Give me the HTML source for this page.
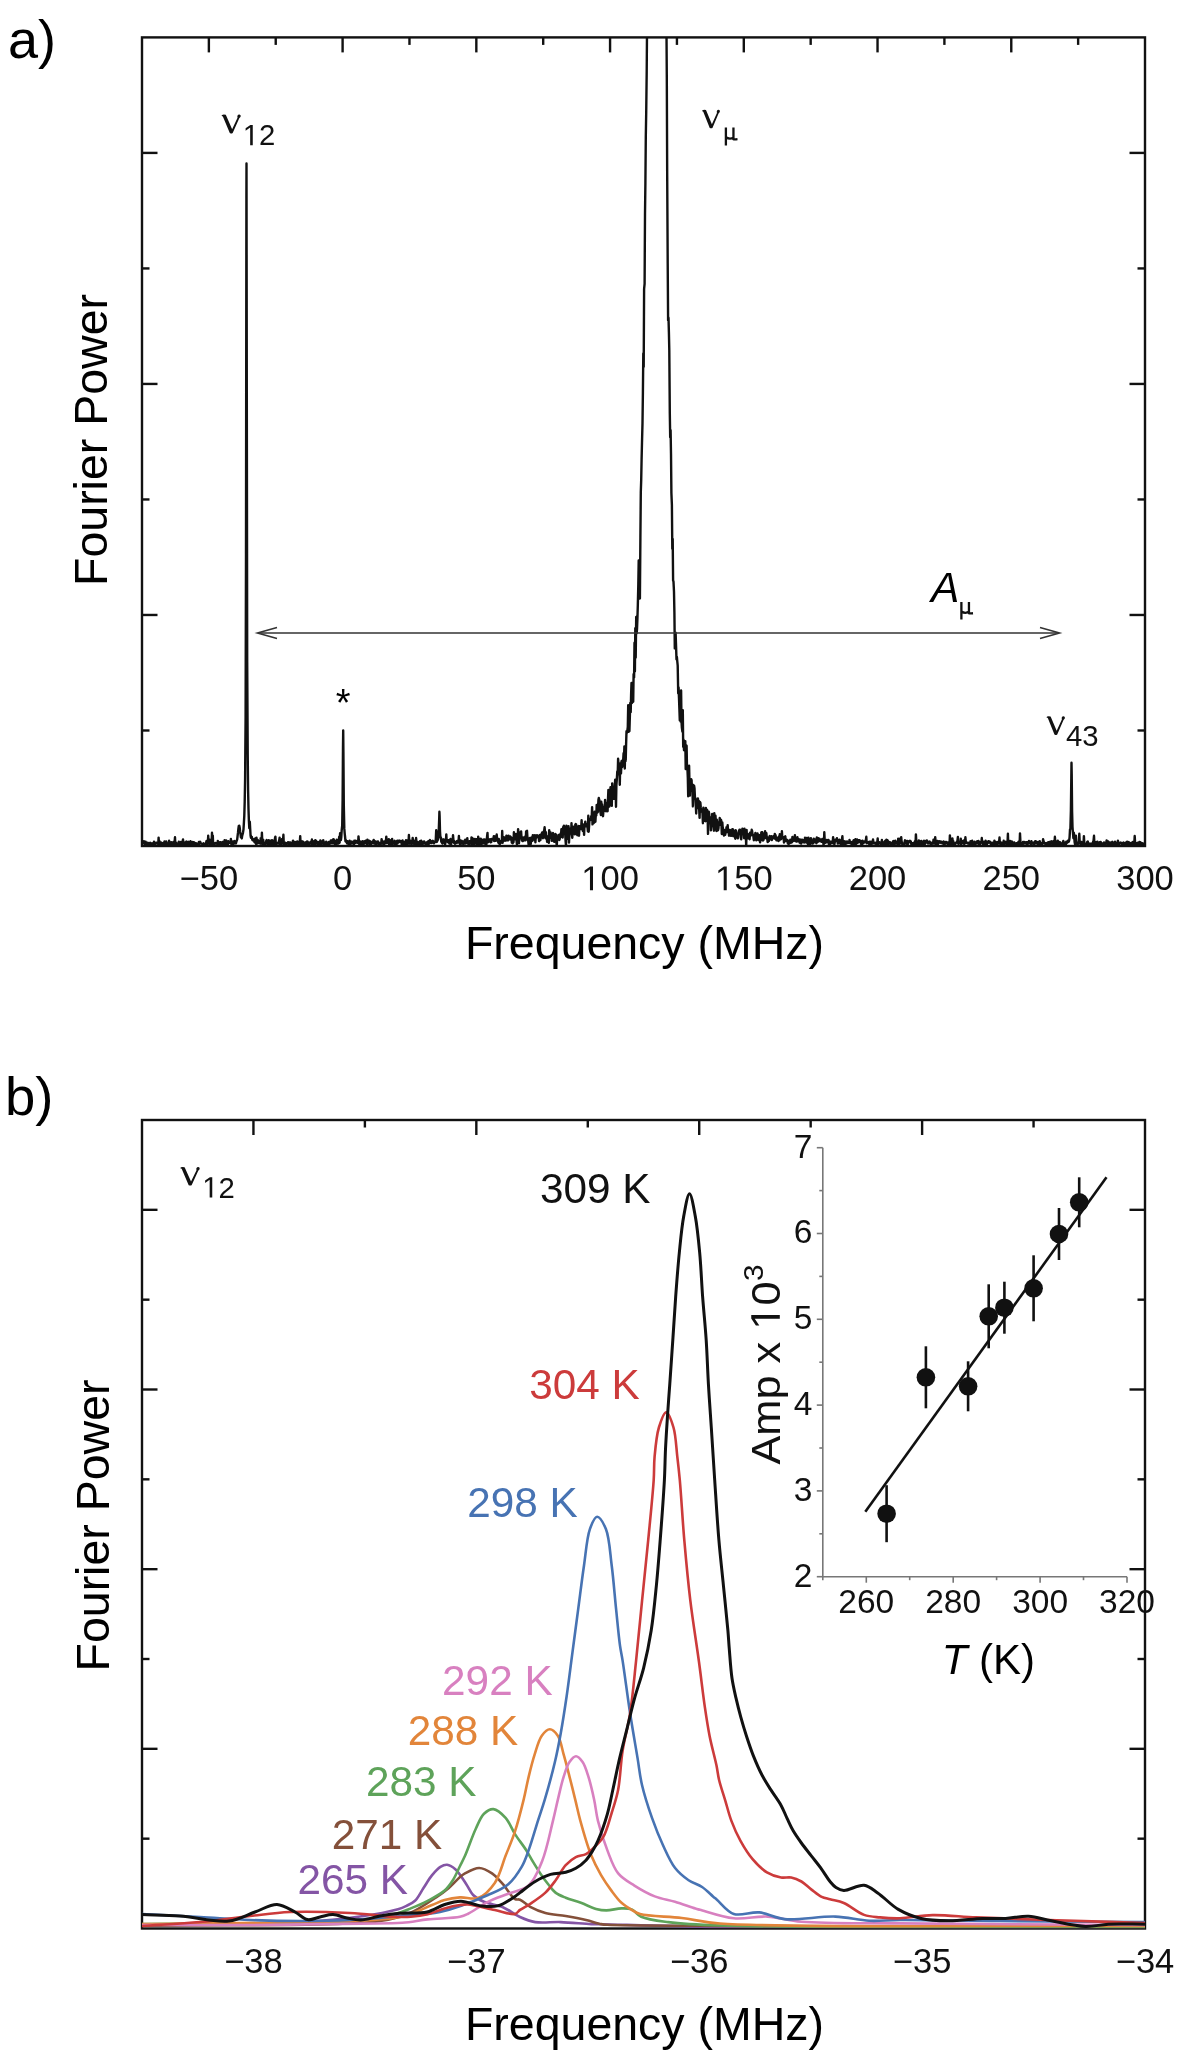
<!DOCTYPE html>
<html><head><meta charset="utf-8"><style>
html,body{margin:0;padding:0;background:#fff;width:1182px;height:2060px;overflow:hidden}
svg{display:block;will-change:transform}
text{font-kerning:none}
</style></head><body>
<svg width="1182" height="2060" viewBox="0 0 1182 2060">
<rect x="142.0" y="37.4" width="1003.0" height="808.6" fill="none" stroke="#111" stroke-width="2.4"/>
<line x1="208.87" y1="37.4" x2="208.87" y2="52.4" stroke="#111" stroke-width="2.4"/>
<line x1="275.73" y1="37.4" x2="275.73" y2="44.9" stroke="#111" stroke-width="2.4"/>
<line x1="342.60" y1="37.4" x2="342.60" y2="52.4" stroke="#111" stroke-width="2.4"/>
<line x1="409.47" y1="37.4" x2="409.47" y2="44.9" stroke="#111" stroke-width="2.4"/>
<line x1="476.33" y1="37.4" x2="476.33" y2="52.4" stroke="#111" stroke-width="2.4"/>
<line x1="543.20" y1="37.4" x2="543.20" y2="44.9" stroke="#111" stroke-width="2.4"/>
<line x1="610.07" y1="37.4" x2="610.07" y2="52.4" stroke="#111" stroke-width="2.4"/>
<line x1="676.93" y1="37.4" x2="676.93" y2="44.9" stroke="#111" stroke-width="2.4"/>
<line x1="743.80" y1="37.4" x2="743.80" y2="52.4" stroke="#111" stroke-width="2.4"/>
<line x1="810.67" y1="37.4" x2="810.67" y2="44.9" stroke="#111" stroke-width="2.4"/>
<line x1="877.53" y1="37.4" x2="877.53" y2="52.4" stroke="#111" stroke-width="2.4"/>
<line x1="944.40" y1="37.4" x2="944.40" y2="44.9" stroke="#111" stroke-width="2.4"/>
<line x1="1011.27" y1="37.4" x2="1011.27" y2="52.4" stroke="#111" stroke-width="2.4"/>
<line x1="1078.13" y1="37.4" x2="1078.13" y2="44.9" stroke="#111" stroke-width="2.4"/>
<line x1="142.0" y1="730.49" x2="149.5" y2="730.49" stroke="#111" stroke-width="2.4"/>
<line x1="1145.0" y1="730.49" x2="1137.5" y2="730.49" stroke="#111" stroke-width="2.4"/>
<line x1="142.0" y1="614.97" x2="157.5" y2="614.97" stroke="#111" stroke-width="2.4"/>
<line x1="1145.0" y1="614.97" x2="1129.5" y2="614.97" stroke="#111" stroke-width="2.4"/>
<line x1="142.0" y1="499.46" x2="149.5" y2="499.46" stroke="#111" stroke-width="2.4"/>
<line x1="1145.0" y1="499.46" x2="1137.5" y2="499.46" stroke="#111" stroke-width="2.4"/>
<line x1="142.0" y1="383.94" x2="157.5" y2="383.94" stroke="#111" stroke-width="2.4"/>
<line x1="1145.0" y1="383.94" x2="1129.5" y2="383.94" stroke="#111" stroke-width="2.4"/>
<line x1="142.0" y1="268.43" x2="149.5" y2="268.43" stroke="#111" stroke-width="2.4"/>
<line x1="1145.0" y1="268.43" x2="1137.5" y2="268.43" stroke="#111" stroke-width="2.4"/>
<line x1="142.0" y1="152.91" x2="157.5" y2="152.91" stroke="#111" stroke-width="2.4"/>
<line x1="1145.0" y1="152.91" x2="1129.5" y2="152.91" stroke="#111" stroke-width="2.4"/>
<text x="208.87" y="890.30" text-anchor="middle" fill="#111" style="font-family:'Liberation Sans',sans-serif;font-size:34.5px">−50</text>
<text x="342.60" y="890.30" text-anchor="middle" fill="#111" style="font-family:'Liberation Sans',sans-serif;font-size:34.5px">0</text>
<text x="476.33" y="890.30" text-anchor="middle" fill="#111" style="font-family:'Liberation Sans',sans-serif;font-size:34.5px">50</text>
<text x="581.29" y="890.30" fill="#111" style="font-family:'Liberation Sans',sans-serif;font-size:34.5px"> 00</text>
<polygon points="589.96,890.30 593.01,890.30 593.01,866.56 590.21,866.56 584.60,870.42 584.60,873.29 589.96,869.46" fill="#111"/>
<text x="715.02" y="890.30" fill="#111" style="font-family:'Liberation Sans',sans-serif;font-size:34.5px"> 50</text>
<polygon points="723.69,890.30 726.74,890.30 726.74,866.56 723.95,866.56 718.34,870.42 718.34,873.29 723.69,869.46" fill="#111"/>
<text x="877.53" y="890.30" text-anchor="middle" fill="#111" style="font-family:'Liberation Sans',sans-serif;font-size:34.5px">200</text>
<text x="1011.27" y="890.30" text-anchor="middle" fill="#111" style="font-family:'Liberation Sans',sans-serif;font-size:34.5px">250</text>
<text x="1145.00" y="890.30" text-anchor="middle" fill="#111" style="font-family:'Liberation Sans',sans-serif;font-size:34.5px">300</text>
<text x="644.5" y="959" text-anchor="middle" style="font-family:'Liberation Sans',sans-serif;font-size:46.5px">Frequency (MHz)</text>
<text transform="translate(106.6,440) rotate(-90)" text-anchor="middle" style="font-family:'Liberation Sans',sans-serif;font-size:46.5px">Fourier Power</text>
<text x="8" y="58" style="font-family:'Liberation Sans',sans-serif;font-size:54px">a)</text>
<defs><clipPath id="ca"><rect x="142" y="37.4" width="1003" height="808.6"/></clipPath><clipPath id="cb"><rect x="142" y="1120" width="1003" height="808.5"/></clipPath></defs>
<polyline clip-path="url(#ca)" points="143.5,844.4 143.9,841.1 144.3,841.9 144.8,844.7 145.2,844.2 145.6,841.6 146.0,843.6 146.4,844.1 146.9,843.7 147.3,846.0 147.7,842.6 148.1,844.1 148.5,843.2 149.0,843.1 149.4,844.7 149.8,843.1 150.2,842.8 150.6,844.8 151.1,843.8 151.5,843.6 151.9,845.0 152.3,843.5 152.7,844.1 153.2,843.1 153.6,846.1 154.0,841.7 154.4,845.1 154.8,844.7 155.3,845.3 155.7,843.1 156.1,842.6 156.5,842.7 156.9,843.0 157.4,842.8 157.8,843.2 158.2,844.2 158.6,837.6 159.0,843.8 159.5,841.3 159.9,844.6 160.3,844.2 160.7,843.2 161.1,842.6 161.6,845.3 162.0,843.7 162.4,844.7 162.8,845.7 163.2,843.0 163.7,843.3 164.1,844.7 164.5,841.4 164.9,843.4 165.3,843.5 165.8,844.2 166.2,841.5 166.6,843.3 167.0,844.1 167.4,843.8 167.9,844.8 168.3,844.4 168.7,844.0 169.1,840.7 169.5,842.5 170.0,843.8 170.4,843.9 170.8,845.3 171.2,842.2 171.6,844.0 172.1,843.3 172.5,845.1 172.9,843.2 173.3,842.1 173.7,844.9 174.2,843.8 174.6,842.2 175.0,837.3 175.4,845.2 175.8,842.5 176.3,843.3 176.7,843.9 177.1,845.4 177.5,843.7 177.9,845.4 178.4,844.1 178.8,841.7 179.2,843.5 179.6,844.0 180.0,844.7 180.5,844.1 180.9,842.0 181.3,842.4 181.7,846.2 182.1,844.0 182.6,841.5 183.0,839.5 183.4,842.6 183.8,845.3 184.2,843.1 184.7,842.7 185.1,844.1 185.5,842.3 185.9,842.3 186.3,841.6 186.8,844.7 187.2,844.5 187.6,845.3 188.0,843.3 188.4,841.8 188.9,844.9 189.3,845.6 189.7,843.3 190.1,843.7 190.5,841.1 191.0,844.4 191.4,844.6 191.8,845.6 192.2,842.9 192.6,842.1 193.1,845.0 193.5,845.2 193.9,842.3 194.3,843.7 194.7,842.8 195.2,844.8 195.6,843.5 196.0,843.2 196.4,843.5 196.8,843.5 197.3,844.2 197.7,844.4 198.1,846.0 198.5,845.1 198.9,841.9 199.4,843.8 199.8,842.7 200.2,841.8 200.6,843.2 201.0,843.5 201.5,843.6 201.9,844.0 202.3,844.2 202.7,844.0 203.1,844.6 203.6,843.3 204.0,844.9 204.4,844.6 204.8,844.2 205.2,844.9 205.7,846.2 206.1,842.5 206.5,841.0 206.9,842.1 207.3,843.8 207.8,844.1 208.2,835.8 208.6,842.1 209.0,843.4 209.4,839.5 209.9,841.9 210.3,845.3 210.7,844.2 211.1,844.1 211.5,843.8 212.0,832.7 212.4,844.2 212.8,835.6 213.2,845.1 213.6,844.2 214.1,844.8 214.5,844.3 214.9,843.7 215.3,842.9 215.7,843.2 216.2,843.2 216.6,843.6 217.0,843.5 217.4,844.5 217.8,840.9 218.3,843.6 218.7,844.2 219.1,844.1 219.5,842.3 219.9,845.1 220.4,842.3 220.8,844.5 221.2,844.3 221.6,844.1 222.0,844.5 222.5,842.0 222.9,844.0 223.3,844.5 223.7,844.7 224.1,842.8 224.6,840.2 225.0,844.6 225.4,841.4 225.8,844.8 226.2,840.5 226.7,844.9 227.1,843.9 227.5,842.5 227.9,844.6 228.3,841.3 228.8,843.1 229.2,842.8 229.6,842.3 230.0,841.8 230.4,842.8 230.9,839.0 231.3,844.1 231.7,842.3 232.1,842.4 232.5,843.3 233.0,841.5 233.4,844.8 233.8,843.1 234.2,842.2 234.6,841.1 235.1,842.6 235.5,842.5 235.9,843.4 236.3,841.9 236.7,840.7 237.2,839.4 237.6,835.9 238.0,832.7 238.4,828.6 238.8,825.9 239.3,825.8 239.7,827.7 240.1,831.4 240.5,833.8 240.9,837.4 241.4,837.4 241.8,838.4 242.2,835.5 242.6,834.3 243.0,832.7 243.5,829.3 243.9,822.8 244.3,815.6 244.7,801.7 245.1,778.9 245.6,717.6 246.0,553.8 246.4,198.1 246.5,163.5 246.8,392.6 247.2,661.9 247.7,753.5 248.1,790.2 248.5,809.2 248.9,820.9 249.3,828.3 249.8,821.8 250.2,829.0 250.6,835.8 251.0,837.9 251.4,837.1 251.9,836.9 252.3,839.9 252.7,840.2 253.1,839.2 253.5,839.1 254.0,839.8 254.4,842.0 254.8,842.4 255.2,838.5 255.6,840.1 256.1,844.1 256.5,837.8 256.9,842.8 257.3,843.5 257.7,839.9 258.2,841.8 258.6,843.0 259.0,841.3 259.4,843.1 259.8,843.2 260.3,843.7 260.7,838.1 261.1,843.3 261.5,843.5 261.9,832.7 262.4,844.1 262.8,844.5 263.2,839.7 263.6,843.6 264.0,844.3 264.5,843.1 264.9,843.3 265.3,843.8 265.7,844.0 266.1,841.3 266.6,840.1 267.0,842.5 267.4,843.4 267.8,843.9 268.2,843.5 268.7,840.2 269.1,844.1 269.5,843.7 269.9,842.2 270.3,840.7 270.8,843.7 271.2,843.1 271.6,844.1 272.0,840.2 272.4,844.8 272.9,845.3 273.3,843.2 273.7,844.2 274.1,840.5 274.5,844.1 275.0,838.1 275.4,836.6 275.8,843.0 276.2,845.2 276.6,842.9 277.1,843.4 277.5,842.9 277.9,843.0 278.3,843.5 278.7,841.9 279.2,840.5 279.6,837.6 280.0,846.9 280.4,843.3 280.8,843.5 281.3,842.0 281.7,843.9 282.1,838.9 282.5,843.3 282.9,842.0 283.4,834.8 283.8,844.4 284.2,842.8 284.6,842.8 285.0,842.7 285.5,843.9 285.9,843.0 286.3,843.9 286.7,843.2 287.1,843.5 287.6,843.3 288.0,842.2 288.4,844.5 288.8,842.9 289.2,843.7 289.7,843.7 290.1,842.3 290.5,844.0 290.9,844.0 291.3,845.1 291.8,844.2 292.2,843.7 292.6,841.9 293.0,840.7 293.4,841.8 293.9,845.1 294.3,842.0 294.7,842.5 295.1,841.9 295.5,842.2 296.0,844.5 296.4,844.0 296.8,844.8 297.2,841.4 297.6,844.6 298.1,843.5 298.5,842.0 298.9,842.9 299.3,843.1 299.7,844.0 300.2,836.1 300.6,843.3 301.0,844.4 301.4,842.1 301.8,841.7 302.3,844.4 302.7,841.5 303.1,842.6 303.5,844.7 303.9,844.3 304.4,842.8 304.8,843.9 305.2,842.5 305.6,844.5 306.0,844.7 306.5,842.2 306.9,841.6 307.3,845.3 307.7,841.8 308.1,844.4 308.6,843.2 309.0,843.7 309.4,843.9 309.8,842.5 310.2,842.9 310.7,842.4 311.1,841.6 311.5,844.0 311.9,839.5 312.3,843.5 312.8,844.9 313.2,842.2 313.6,844.4 314.0,841.1 314.4,843.2 314.9,844.3 315.3,840.1 315.7,841.5 316.1,840.7 316.5,843.4 317.0,843.0 317.4,844.3 317.8,842.9 318.2,842.1 318.6,843.9 319.1,842.3 319.5,843.3 319.9,845.1 320.3,840.5 320.7,843.7 321.2,843.2 321.6,843.9 322.0,842.5 322.4,843.6 322.8,840.7 323.3,840.3 323.7,844.3 324.1,842.1 324.5,844.3 324.9,844.1 325.4,843.8 325.8,845.6 326.2,841.6 326.6,843.1 327.0,845.0 327.5,843.0 327.9,843.0 328.3,842.7 328.7,842.0 329.1,845.0 329.6,844.0 330.0,843.1 330.4,841.6 330.8,840.4 331.2,843.4 331.7,840.5 332.1,842.9 332.5,843.3 332.9,842.4 333.3,839.1 333.8,839.5 334.2,843.6 334.6,842.9 335.0,841.2 335.4,845.7 335.9,843.3 336.3,844.9 336.7,839.6 337.1,840.1 337.5,841.6 338.0,842.4 338.4,843.6 338.8,841.2 339.2,836.8 339.6,842.8 340.1,833.1 340.5,840.1 340.9,840.1 341.3,837.0 341.7,830.0 342.2,825.7 342.6,800.7 343.0,745.9 343.2,730.4 343.4,751.2 343.8,805.0 344.3,828.4 344.7,833.3 345.1,837.0 345.5,841.4 345.9,840.1 346.4,842.2 346.8,841.8 347.2,843.6 347.6,841.3 348.0,842.8 348.5,841.5 348.9,844.2 349.3,843.0 349.7,840.8 350.1,841.5 350.6,843.8 351.0,843.8 351.4,842.3 351.8,841.6 352.2,843.2 352.7,842.2 353.1,843.4 353.5,843.6 353.9,844.8 354.3,840.6 354.8,843.4 355.2,842.8 355.6,840.7 356.0,841.1 356.4,841.8 356.9,841.5 357.3,842.9 357.7,841.5 358.1,842.7 358.5,836.4 359.0,842.0 359.4,845.1 359.8,841.5 360.2,842.0 360.6,841.5 361.1,845.0 361.5,842.4 361.9,841.9 362.3,842.5 362.7,841.2 363.2,845.7 363.6,842.6 364.0,843.9 364.4,843.2 364.8,841.2 365.3,842.3 365.7,840.7 366.1,841.5 366.5,842.7 366.9,845.0 367.4,839.6 367.8,842.2 368.2,842.7 368.6,843.3 369.0,840.6 369.5,844.7 369.9,842.5 370.3,841.3 370.7,845.1 371.1,844.5 371.6,842.3 372.0,842.6 372.4,841.8 372.8,843.1 373.2,842.0 373.7,839.9 374.1,843.5 374.5,842.9 374.9,841.2 375.3,843.7 375.8,844.7 376.2,842.8 376.6,841.7 377.0,842.9 377.4,842.8 377.9,841.4 378.3,844.1 378.7,844.8 379.1,842.6 379.5,843.1 380.0,845.4 380.4,845.2 380.8,843.9 381.2,843.9 381.6,839.2 382.1,843.3 382.5,841.3 382.9,843.9 383.3,841.6 383.7,841.6 384.2,844.1 384.6,843.1 385.0,842.8 385.4,840.7 385.8,843.2 386.3,836.6 386.7,841.9 387.1,843.0 387.5,842.9 387.9,840.8 388.4,842.8 388.8,839.1 389.2,845.8 389.6,842.5 390.0,843.7 390.5,842.8 390.9,840.2 391.3,847.0 391.7,843.1 392.1,838.9 392.6,844.3 393.0,842.8 393.4,843.3 393.8,843.3 394.2,842.7 394.7,840.8 395.1,845.3 395.5,841.4 395.9,842.3 396.3,845.6 396.8,841.3 397.2,840.7 397.6,843.4 398.0,841.0 398.4,842.4 398.9,841.1 399.3,840.6 399.7,842.0 400.1,841.3 400.5,840.9 401.0,841.6 401.4,842.2 401.8,845.4 402.2,843.9 402.6,840.5 403.1,843.4 403.5,843.2 403.9,844.8 404.3,842.1 404.7,844.5 405.2,841.5 405.6,844.5 406.0,840.2 406.4,842.0 406.8,840.5 407.3,845.1 407.7,842.1 408.1,842.2 408.5,842.6 408.9,835.0 409.4,843.8 409.8,843.3 410.2,840.7 410.6,842.7 411.0,843.5 411.5,844.3 411.9,843.4 412.3,841.5 412.7,838.0 413.1,843.5 413.6,843.0 414.0,840.6 414.4,845.0 414.8,844.7 415.2,844.7 415.7,843.7 416.1,838.0 416.5,842.3 416.9,841.6 417.3,843.8 417.8,845.0 418.2,846.3 418.6,842.3 419.0,842.3 419.4,843.0 419.9,841.2 420.3,845.0 420.7,841.9 421.1,840.7 421.5,843.4 422.0,843.9 422.4,842.3 422.8,844.1 423.2,841.6 423.6,843.1 424.1,841.4 424.5,843.0 424.9,842.5 425.3,844.0 425.7,842.7 426.2,845.9 426.6,843.7 427.0,842.7 427.4,841.9 427.8,845.1 428.3,841.1 428.7,844.0 429.1,843.6 429.5,840.7 429.9,840.1 430.4,842.3 430.8,842.7 431.2,843.0 431.6,842.1 432.0,841.0 432.5,840.8 432.9,840.9 433.3,842.9 433.7,842.1 434.1,843.3 434.6,841.4 435.0,841.5 435.4,841.9 435.8,839.1 436.2,830.3 436.7,842.0 437.1,841.5 437.5,838.3 437.9,839.9 438.3,836.9 438.8,829.3 439.2,818.7 439.4,811.8 439.6,815.6 440.0,831.0 440.4,837.6 440.9,837.5 441.3,841.9 441.7,840.3 442.1,843.0 442.5,843.5 443.0,839.4 443.4,842.2 443.8,839.5 444.2,841.1 444.6,841.6 445.1,844.5 445.5,842.3 445.9,841.4 446.3,834.4 446.7,841.3 447.2,840.5 447.6,841.2 448.0,842.2 448.4,840.2 448.8,841.6 449.3,843.5 449.7,841.6 450.1,839.8 450.5,838.9 450.9,845.6 451.4,842.2 451.8,841.3 452.2,842.2 452.6,842.1 453.0,835.2 453.5,840.5 453.9,842.9 454.3,841.4 454.7,843.1 455.1,843.8 455.6,841.9 456.0,841.7 456.4,842.4 456.8,843.1 457.2,841.0 457.7,841.0 458.1,841.8 458.5,842.1 458.9,836.0 459.3,843.3 459.8,842.3 460.2,845.7 460.6,840.5 461.0,842.3 461.4,843.7 461.9,841.0 462.3,842.5 462.7,842.4 463.1,843.3 463.5,844.6 464.0,841.9 464.4,840.7 464.8,843.3 465.2,839.8 465.6,843.6 466.1,842.8 466.5,842.2 466.9,841.6 467.3,838.2 467.7,843.1 468.2,843.5 468.6,845.0 469.0,844.3 469.4,841.3 469.8,843.2 470.3,841.0 470.7,843.3 471.1,843.8 471.5,837.4 471.9,844.0 472.4,844.8 472.8,838.5 473.2,839.8 473.6,843.5 474.0,845.1 474.5,844.2 474.9,839.0 475.3,842.4 475.7,843.0 476.1,842.3 476.6,839.2 477.0,844.7 477.4,843.1 477.8,845.1 478.2,836.7 478.7,838.9 479.1,840.8 479.5,842.7 479.9,839.5 480.3,846.1 480.8,838.7 481.2,841.5 481.6,844.3 482.0,843.3 482.4,841.0 482.9,840.5 483.3,839.6 483.7,841.4 484.1,843.6 484.5,839.5 485.0,839.6 485.4,839.8 485.8,843.9 486.2,846.0 486.6,841.8 487.1,836.1 487.5,832.9 487.9,842.2 488.3,839.5 488.7,840.8 489.2,840.4 489.6,841.6 490.0,839.2 490.4,841.1 490.8,842.3 491.3,842.0 491.7,838.9 492.1,839.6 492.5,839.0 492.9,839.5 493.4,838.5 493.8,836.3 494.2,841.1 494.6,839.3 495.0,836.4 495.5,838.3 495.9,840.7 496.3,839.3 496.7,834.5 497.1,838.8 497.6,840.2 498.0,841.3 498.4,842.8 498.8,838.9 499.2,841.7 499.7,844.6 500.1,841.1 500.5,841.5 500.9,842.8 501.3,840.6 501.8,842.6 502.2,831.0 502.6,842.9 503.0,840.1 503.4,836.9 503.9,837.3 504.3,838.5 504.7,840.2 505.1,840.8 505.5,840.6 506.0,838.7 506.4,835.7 506.8,839.3 507.2,840.3 507.6,838.1 508.1,840.4 508.5,835.6 508.9,837.8 509.3,839.2 509.7,839.0 510.2,836.5 510.6,839.6 511.0,838.0 511.4,837.6 511.8,842.7 512.3,840.3 512.7,843.4 513.1,839.4 513.5,842.2 513.9,832.3 514.4,839.1 514.8,837.5 515.2,839.2 515.6,839.0 516.0,834.0 516.5,840.1 516.9,844.5 517.3,841.3 517.7,839.5 518.1,829.1 518.6,834.8 519.0,843.3 519.4,832.1 519.8,836.5 520.2,838.4 520.7,837.6 521.1,831.4 521.5,837.3 521.9,840.5 522.3,839.3 522.8,841.1 523.2,837.4 523.6,839.8 524.0,839.0 524.4,838.1 524.9,840.4 525.3,836.4 525.7,840.2 526.1,831.6 526.5,831.0 527.0,830.8 527.4,836.9 527.8,838.3 528.2,840.9 528.6,844.7 529.1,842.4 529.5,839.4 529.9,837.9 530.3,842.6 530.7,844.2 531.2,840.3 531.6,837.5 532.0,840.8 532.4,840.8 532.8,835.3 533.3,836.3 533.7,835.5 534.1,839.6 534.5,837.8 534.9,835.3 535.4,842.4 535.8,836.7 536.2,838.0 536.6,837.3 537.0,835.3 537.5,836.8 537.9,835.7 538.3,835.7 538.7,836.9 539.1,841.1 539.6,839.0 540.0,834.9 540.4,840.1 540.8,836.5 541.2,836.2 541.7,833.6 542.1,832.6 542.5,835.1 542.9,838.2 543.3,832.0 543.8,831.4 544.2,830.4 544.6,827.3 545.0,831.6 545.4,838.3 545.9,832.2 546.3,838.4 546.7,836.0 547.1,841.8 547.5,837.7 548.0,839.7 548.4,839.4 548.8,842.9 549.2,830.2 549.6,833.8 550.1,834.4 550.5,832.4 550.9,838.0 551.3,835.9 551.7,840.9 552.2,836.4 552.6,833.8 553.0,833.0 553.4,834.4 553.8,841.4 554.3,841.8 554.7,839.6 555.1,834.8 555.5,834.0 555.9,834.7 556.4,842.8 556.8,845.2 557.2,838.8 557.6,837.2 558.0,837.6 558.5,834.9 558.9,835.4 559.3,840.0 559.7,839.1 560.1,834.7 560.6,833.6 561.0,835.0 561.4,829.3 561.8,837.0 562.2,834.7 562.7,837.5 563.1,827.3 563.5,826.8 563.9,825.7 564.3,829.3 564.8,830.6 565.2,833.9 565.6,841.2 566.0,845.7 566.4,825.8 566.9,832.0 567.3,834.8 567.7,834.3 568.1,838.8 568.5,826.1 569.0,842.6 569.4,833.4 569.8,828.8 570.2,831.6 570.6,829.6 571.1,833.5 571.5,823.3 571.9,835.1 572.3,837.7 572.7,830.3 573.2,826.8 573.6,830.6 574.0,828.1 574.4,830.8 574.8,834.4 575.3,824.7 575.7,824.0 576.1,824.4 576.5,830.6 576.9,834.0 577.4,835.2 577.8,831.1 578.2,826.9 578.6,826.0 579.0,835.8 579.5,826.1 579.9,827.2 580.3,827.8 580.7,829.1 581.1,828.7 581.6,820.3 582.0,827.1 582.4,824.1 582.8,831.0 583.2,825.3 583.7,828.1 584.1,834.9 584.5,824.2 584.9,826.7 585.3,821.6 585.8,825.7 586.2,826.2 586.6,824.5 587.0,824.6 587.4,826.3 587.9,831.3 588.3,815.7 588.7,831.7 589.1,825.6 589.5,819.1 590.0,820.1 590.4,819.7 590.8,818.6 591.2,816.1 591.6,820.0 592.1,807.1 592.5,824.4 592.9,820.3 593.3,820.1 593.7,823.1 594.2,817.1 594.6,811.8 595.0,822.0 595.4,821.6 595.8,815.0 596.3,815.5 596.7,804.9 597.1,810.0 597.5,812.5 597.9,811.8 598.4,800.3 598.8,797.9 599.2,800.0 599.6,801.2 600.0,808.1 600.5,812.5 600.9,815.0 601.3,801.8 601.7,807.0 602.1,804.5 602.6,814.5 603.0,816.2 603.4,811.5 603.8,806.8 604.2,810.7 604.7,809.4 605.1,799.9 605.5,804.6 605.9,811.3 606.3,805.9 606.8,808.3 607.2,802.9 607.6,811.2 608.0,799.1 608.4,789.9 608.9,798.4 609.3,806.5 609.7,803.2 610.1,796.7 610.5,787.3 611.0,791.5 611.4,795.9 611.8,805.9 612.2,783.4 612.6,792.2 613.1,790.0 613.5,788.3 613.9,798.9 614.3,793.0 614.7,786.9 615.2,779.7 615.6,786.9 616.0,806.8 616.4,784.8 616.8,779.6 617.3,771.4 617.7,774.5 618.1,758.8 618.5,763.8 618.9,763.8 619.4,765.3 619.8,784.8 620.2,763.9 620.6,763.2 621.0,773.5 621.5,761.2 621.9,760.7 622.3,767.0 622.7,760.7 623.1,761.4 623.6,753.1 624.0,757.8 624.4,746.4 624.8,768.5 625.2,746.9 625.7,760.9 626.1,744.1 626.5,731.3 626.9,732.9 627.3,731.2 627.8,726.8 628.2,705.2 628.6,731.7 629.0,705.9 629.4,731.3 629.9,715.0 630.3,702.9 630.7,712.3 631.1,694.5 631.5,683.0 632.0,703.1 632.4,682.8 632.8,684.0 633.2,701.8 633.6,674.1 634.1,677.4 634.5,642.7 634.9,671.3 635.3,628.1 635.7,657.6 636.2,617.0 636.6,633.5 637.0,629.5 637.4,619.1 637.8,605.7 638.3,584.9 638.7,560.4 639.1,584.9 639.5,587.8 639.9,598.5 640.4,537.1 640.8,492.0 641.2,480.1 641.6,459.2 642.0,442.4 642.5,423.1 642.9,393.0 643.3,353.5 643.7,366.8 644.1,289.0 644.6,283.9 645.0,214.3 645.4,183.0 645.8,136.5 646.2,113.0 646.7,71.8 647.1,20.0 647.5,20.0 647.9,20.0 648.3,20.0 648.8,20.0 649.2,20.0 649.6,20.0 650.0,20.0 650.4,20.0 650.9,20.0 651.3,20.0 651.7,20.0 652.1,20.0 652.5,20.0 653.0,20.0 653.4,20.0 653.8,20.0 654.2,20.0 654.6,20.0 655.1,20.0 655.5,20.0 655.9,20.0 656.3,20.0 656.7,20.0 657.2,20.0 657.6,20.0 658.0,20.0 658.4,20.0 658.8,20.0 659.3,20.0 659.7,20.0 660.1,20.0 660.5,20.0 660.9,20.0 661.4,20.0 661.8,20.0 662.2,20.0 662.6,20.0 663.0,20.0 663.5,20.0 663.9,20.0 664.3,20.0 664.7,20.0 665.1,20.0 665.6,20.0 666.0,20.0 666.4,20.0 666.8,76.4 667.2,176.3 667.7,263.5 668.1,320.2 668.5,317.7 668.9,332.1 669.3,350.3 669.8,412.9 670.2,437.2 670.6,430.3 671.0,453.4 671.4,493.1 671.9,505.1 672.3,548.8 672.7,538.9 673.1,580.4 673.5,581.7 674.0,591.9 674.4,612.2 674.8,648.4 675.2,637.3 675.6,632.6 676.1,647.2 676.5,659.4 676.9,657.0 677.3,661.5 677.7,665.5 678.2,693.2 678.6,687.5 679.0,698.1 679.4,709.3 679.8,720.4 680.3,709.7 680.7,721.6 681.1,690.4 681.5,721.7 681.9,727.8 682.4,731.7 682.8,710.3 683.2,746.8 683.6,739.7 684.0,750.2 684.5,747.7 684.9,750.4 685.3,741.1 685.7,769.1 686.1,758.9 686.6,745.8 687.0,767.7 687.4,768.0 687.8,777.3 688.2,796.2 688.7,775.9 689.1,765.8 689.5,783.5 689.9,795.6 690.3,781.7 690.8,784.5 691.2,779.3 691.6,780.3 692.0,791.0 692.4,788.4 692.9,806.4 693.3,785.0 693.7,790.4 694.1,785.7 694.5,788.1 695.0,798.8 695.4,798.1 695.8,805.2 696.2,813.5 696.6,800.5 697.1,799.9 697.5,808.1 697.9,798.4 698.3,801.6 698.7,800.8 699.2,809.7 699.6,817.9 700.0,802.0 700.4,802.8 700.8,807.7 701.3,811.6 701.7,811.1 702.1,811.1 702.5,813.3 702.9,823.2 703.4,807.6 703.8,821.0 704.2,815.8 704.6,815.2 705.0,813.8 705.5,821.2 705.9,807.9 706.3,811.7 706.7,811.2 707.1,809.9 707.6,814.5 708.0,833.9 708.4,817.3 708.8,811.6 709.2,814.0 709.7,823.1 710.1,821.2 710.5,817.4 710.9,830.4 711.3,825.1 711.8,823.6 712.2,813.9 712.6,826.1 713.0,815.1 713.4,821.9 713.9,830.8 714.3,813.3 714.7,824.9 715.1,821.5 715.5,815.7 716.0,826.6 716.4,831.0 716.8,819.7 717.2,824.4 717.6,830.5 718.1,829.9 718.5,827.9 718.9,822.2 719.3,825.3 719.7,818.0 720.2,819.0 720.6,821.4 721.0,819.8 721.4,821.6 721.8,834.0 722.3,822.4 722.7,827.3 723.1,828.9 723.5,833.1 723.9,835.6 724.4,834.2 724.8,830.1 725.2,834.7 725.6,832.7 726.0,831.7 726.5,827.3 726.9,832.1 727.3,827.7 727.7,825.2 728.1,831.9 728.6,829.6 729.0,835.7 729.4,830.5 729.8,831.4 730.2,830.1 730.7,834.4 731.1,835.8 731.5,831.0 731.9,834.4 732.3,829.3 732.8,829.3 733.2,836.2 733.6,830.5 734.0,834.0 734.4,832.7 734.9,835.8 735.3,838.7 735.7,830.2 736.1,830.8 736.5,836.8 737.0,835.8 737.4,835.9 737.8,838.4 738.2,833.7 738.6,833.1 739.1,830.9 739.5,829.6 739.9,829.7 740.3,830.8 740.7,837.2 741.2,839.3 741.6,833.4 742.0,834.1 742.4,828.7 742.8,831.4 743.3,833.9 743.7,829.5 744.1,838.3 744.5,828.7 744.9,836.0 745.4,831.0 745.8,834.2 746.2,845.9 746.6,829.9 747.0,838.2 747.5,834.0 747.9,838.3 748.3,835.8 748.7,834.7 749.1,834.8 749.6,839.2 750.0,832.6 750.4,833.3 750.8,835.6 751.2,834.7 751.7,829.8 752.1,830.9 752.5,834.5 752.9,834.5 753.3,835.9 753.8,840.2 754.2,839.3 754.6,835.3 755.0,835.7 755.4,833.0 755.9,835.6 756.3,840.3 756.7,836.1 757.1,835.2 757.5,833.4 758.0,835.9 758.4,840.0 758.8,834.9 759.2,838.5 759.6,836.3 760.1,842.4 760.5,834.9 760.9,840.4 761.3,832.6 761.7,832.1 762.2,832.2 762.6,836.9 763.0,840.5 763.4,840.3 763.8,833.7 764.3,836.9 764.7,838.3 765.1,831.3 765.5,833.1 765.9,836.0 766.4,833.3 766.8,838.7 767.2,837.2 767.6,842.0 768.0,841.7 768.5,840.8 768.9,840.9 769.3,837.5 769.7,836.1 770.1,839.2 770.6,838.4 771.0,838.7 771.4,836.2 771.8,840.1 772.2,837.8 772.7,837.2 773.1,837.2 773.5,836.3 773.9,837.6 774.3,838.6 774.8,834.0 775.2,837.3 775.6,835.3 776.0,838.5 776.4,840.2 776.9,840.2 777.3,839.3 777.7,837.8 778.1,840.1 778.5,840.9 779.0,836.5 779.4,840.3 779.8,834.1 780.2,838.1 780.6,837.9 781.1,839.2 781.5,838.5 781.9,831.3 782.3,837.6 782.7,837.2 783.2,837.7 783.6,837.3 784.0,842.6 784.4,841.7 784.8,837.3 785.3,836.3 785.7,840.9 786.1,839.9 786.5,840.1 786.9,839.8 787.4,841.4 787.8,843.2 788.2,840.8 788.6,844.2 789.0,842.1 789.5,840.8 789.9,843.1 790.3,839.7 790.7,841.8 791.1,840.2 791.6,842.5 792.0,842.0 792.4,837.0 792.8,839.2 793.2,841.1 793.7,839.3 794.1,840.4 794.5,838.4 794.9,835.2 795.3,841.1 795.8,839.4 796.2,840.1 796.6,841.6 797.0,841.5 797.4,837.1 797.9,840.4 798.3,839.0 798.7,839.1 799.1,840.9 799.5,842.6 800.0,839.7 800.4,843.2 800.8,839.7 801.2,843.6 801.6,841.9 802.1,839.6 802.5,840.7 802.9,842.1 803.3,840.2 803.7,841.8 804.2,842.5 804.6,842.0 805.0,837.7 805.4,839.0 805.8,840.2 806.3,842.6 806.7,837.9 807.1,842.5 807.5,840.1 807.9,844.1 808.4,837.7 808.8,843.2 809.2,839.5 809.6,840.0 810.0,845.3 810.5,841.8 810.9,838.2 811.3,839.6 811.7,843.1 812.1,843.1 812.6,843.6 813.0,842.3 813.4,842.9 813.8,838.6 814.2,841.2 814.7,841.3 815.1,842.0 815.5,839.4 815.9,839.9 816.3,843.2 816.8,837.5 817.2,842.4 817.6,842.1 818.0,841.4 818.4,838.1 818.9,840.8 819.3,840.2 819.7,838.9 820.1,841.3 820.5,840.3 821.0,840.6 821.4,841.7 821.8,840.4 822.2,839.0 822.6,842.1 823.1,839.0 823.5,844.7 823.9,843.6 824.3,832.3 824.7,840.0 825.2,842.7 825.6,840.5 826.0,840.5 826.4,842.3 826.8,840.0 827.3,842.2 827.7,840.9 828.1,842.0 828.5,840.0 828.9,844.5 829.4,843.0 829.8,841.3 830.2,844.0 830.6,843.8 831.0,841.9 831.5,841.8 831.9,842.4 832.3,842.2 832.7,843.1 833.1,837.1 833.6,843.6 834.0,843.4 834.4,844.2 834.8,842.1 835.2,839.8 835.7,840.0 836.1,840.7 836.5,839.7 836.9,838.2 837.3,841.0 837.8,843.6 838.2,840.2 838.6,843.2 839.0,841.5 839.4,839.6 839.9,842.1 840.3,842.8 840.7,844.1 841.1,845.1 841.5,841.4 842.0,839.3 842.4,836.2 842.8,843.0 843.2,846.3 843.6,844.6 844.1,841.2 844.5,844.1 844.9,841.4 845.3,844.4 845.7,841.7 846.2,843.6 846.6,842.5 847.0,841.4 847.4,843.1 847.8,842.1 848.3,842.2 848.7,842.5 849.1,842.9 849.5,840.0 849.9,842.5 850.4,843.1 850.8,843.4 851.2,842.1 851.6,844.3 852.0,845.1 852.5,843.3 852.9,841.5 853.3,845.2 853.7,840.1 854.1,842.2 854.6,845.3 855.0,841.3 855.4,839.1 855.8,843.5 856.2,843.9 856.7,842.8 857.1,839.4 857.5,841.7 857.9,842.7 858.3,840.3 858.8,840.8 859.2,840.3 859.6,840.3 860.0,841.9 860.4,840.9 860.9,843.7 861.3,841.9 861.7,844.3 862.1,844.1 862.5,840.7 863.0,843.6 863.4,841.9 863.8,842.5 864.2,841.4 864.6,842.4 865.1,841.2 865.5,842.0 865.9,840.1 866.3,836.8 866.7,843.2 867.2,842.4 867.6,842.3 868.0,842.4 868.4,842.1 868.8,843.8 869.3,843.8 869.7,841.8 870.1,846.4 870.5,843.1 870.9,841.6 871.4,844.2 871.8,843.1 872.2,843.0 872.6,843.5 873.0,839.5 873.5,843.3 873.9,842.5 874.3,842.7 874.7,843.4 875.1,842.7 875.6,843.6 876.0,842.7 876.4,844.7 876.8,843.4 877.2,842.6 877.7,838.5 878.1,845.3 878.5,842.0 878.9,842.2 879.3,842.1 879.8,842.6 880.2,842.7 880.6,842.9 881.0,845.6 881.4,844.7 881.9,840.0 882.3,843.3 882.7,843.7 883.1,842.4 883.5,844.5 884.0,843.9 884.4,844.6 884.8,841.5 885.2,840.8 885.6,844.3 886.1,843.4 886.5,839.7 886.9,840.3 887.3,846.7 887.7,840.4 888.2,842.9 888.6,844.7 889.0,843.2 889.4,842.1 889.8,842.3 890.3,842.7 890.7,842.5 891.1,844.2 891.5,843.0 891.9,843.1 892.4,842.7 892.8,845.2 893.2,841.2 893.6,840.9 894.0,842.5 894.5,844.4 894.9,843.7 895.3,840.7 895.7,842.8 896.1,843.5 896.6,841.9 897.0,843.5 897.4,843.8 897.8,844.7 898.2,838.6 898.7,842.1 899.1,844.1 899.5,843.0 899.9,838.6 900.3,843.5 900.8,840.8 901.2,837.1 901.6,841.3 902.0,842.6 902.4,844.7 902.9,847.0 903.3,845.4 903.7,844.7 904.1,844.2 904.5,842.4 905.0,840.3 905.4,843.6 905.8,841.3 906.2,840.9 906.6,842.5 907.1,844.0 907.5,840.9 907.9,844.3 908.3,842.8 908.7,842.2 909.2,841.3 909.6,842.0 910.0,840.8 910.4,841.1 910.8,841.4 911.3,844.2 911.7,842.8 912.1,843.7 912.5,844.1 912.9,843.7 913.4,843.0 913.8,843.3 914.2,846.2 914.6,844.0 915.0,841.1 915.5,844.6 915.9,834.4 916.3,841.0 916.7,845.4 917.1,844.8 917.6,843.0 918.0,844.1 918.4,842.8 918.8,840.5 919.2,845.3 919.7,841.4 920.1,841.4 920.5,843.9 920.9,843.1 921.3,841.0 921.8,844.0 922.2,842.7 922.6,843.4 923.0,844.3 923.4,841.6 923.9,840.8 924.3,841.3 924.7,844.7 925.1,841.0 925.5,842.1 926.0,842.6 926.4,842.3 926.8,840.5 927.2,840.8 927.6,843.1 928.1,843.5 928.5,842.8 928.9,842.9 929.3,842.5 929.7,841.5 930.2,843.8 930.6,843.1 931.0,843.2 931.4,844.8 931.8,842.6 932.3,843.6 932.7,842.5 933.1,843.4 933.5,839.6 933.9,842.0 934.4,843.6 934.8,843.0 935.2,837.2 935.6,841.4 936.0,845.2 936.5,843.0 936.9,842.9 937.3,841.0 937.7,846.3 938.1,841.8 938.6,842.5 939.0,841.1 939.4,841.1 939.8,842.3 940.2,842.8 940.7,841.5 941.1,842.1 941.5,841.8 941.9,842.9 942.3,843.3 942.8,843.0 943.2,843.8 943.6,841.5 944.0,842.9 944.4,844.9 944.9,844.0 945.3,842.1 945.7,842.0 946.1,842.2 946.5,842.0 947.0,843.2 947.4,842.5 947.8,846.2 948.2,844.5 948.6,842.3 949.1,845.9 949.5,844.9 949.9,835.4 950.3,842.8 950.7,840.9 951.2,839.0 951.6,841.0 952.0,845.7 952.4,838.4 952.8,842.0 953.3,841.2 953.7,844.6 954.1,844.6 954.5,844.3 954.9,843.5 955.4,843.9 955.8,842.7 956.2,842.9 956.6,842.6 957.0,842.5 957.5,840.4 957.9,837.0 958.3,843.9 958.7,843.1 959.1,842.0 959.6,843.3 960.0,842.1 960.4,843.7 960.8,838.8 961.2,844.4 961.7,843.2 962.1,843.0 962.5,842.9 962.9,841.0 963.3,842.8 963.8,843.8 964.2,840.1 964.6,843.8 965.0,842.2 965.4,837.3 965.9,842.7 966.3,842.4 966.7,842.5 967.1,843.1 967.5,843.4 968.0,842.8 968.4,843.5 968.8,842.7 969.2,843.9 969.6,842.7 970.1,845.5 970.5,841.2 970.9,841.8 971.3,845.1 971.7,842.8 972.2,840.6 972.6,842.7 973.0,842.2 973.4,844.7 973.8,846.6 974.3,844.1 974.7,841.7 975.1,842.8 975.5,842.7 975.9,843.9 976.4,843.2 976.8,843.3 977.2,841.2 977.6,841.5 978.0,843.5 978.5,841.0 978.9,844.4 979.3,842.9 979.7,844.1 980.1,844.1 980.6,842.0 981.0,842.2 981.4,842.0 981.8,838.0 982.2,842.6 982.7,843.2 983.1,844.9 983.5,843.7 983.9,841.8 984.3,842.4 984.8,844.3 985.2,845.4 985.6,840.7 986.0,842.6 986.4,846.0 986.9,844.0 987.3,841.8 987.7,841.7 988.1,842.9 988.5,841.1 989.0,842.1 989.4,842.5 989.8,841.5 990.2,843.0 990.6,843.8 991.1,844.1 991.5,842.6 991.9,843.0 992.3,842.8 992.7,844.2 993.2,844.6 993.6,843.4 994.0,844.7 994.4,840.7 994.8,844.2 995.3,844.1 995.7,841.9 996.1,844.0 996.5,842.3 996.9,846.1 997.4,842.9 997.8,841.9 998.2,842.7 998.6,843.6 999.0,843.0 999.5,837.5 999.9,843.8 1000.3,843.8 1000.7,843.0 1001.1,842.5 1001.6,842.7 1002.0,844.9 1002.4,844.0 1002.8,843.2 1003.2,844.4 1003.7,840.8 1004.1,844.8 1004.5,843.9 1004.9,842.0 1005.3,842.7 1005.8,841.7 1006.2,842.3 1006.6,844.0 1007.0,842.5 1007.4,845.7 1007.9,833.8 1008.3,844.5 1008.7,843.4 1009.1,843.3 1009.5,844.2 1010.0,841.0 1010.4,844.1 1010.8,844.0 1011.2,842.5 1011.6,841.4 1012.1,841.8 1012.5,845.8 1012.9,842.4 1013.3,843.5 1013.7,843.6 1014.2,842.4 1014.6,843.3 1015.0,844.7 1015.4,843.5 1015.8,844.5 1016.3,843.2 1016.7,844.0 1017.1,844.0 1017.5,845.6 1017.9,843.4 1018.4,841.9 1018.8,841.4 1019.2,843.0 1019.6,844.6 1020.0,833.4 1020.5,843.5 1020.9,843.3 1021.3,843.1 1021.7,844.2 1022.1,844.6 1022.6,845.1 1023.0,842.0 1023.4,842.8 1023.8,842.0 1024.2,843.5 1024.7,842.1 1025.1,843.0 1025.5,843.4 1025.9,843.3 1026.3,842.2 1026.8,844.7 1027.2,842.9 1027.6,844.6 1028.0,841.9 1028.4,842.6 1028.9,841.0 1029.3,843.1 1029.7,841.6 1030.1,842.4 1030.5,843.8 1031.0,843.4 1031.4,841.3 1031.8,843.8 1032.2,842.5 1032.6,842.6 1033.1,843.4 1033.5,842.5 1033.9,844.8 1034.3,844.4 1034.7,843.8 1035.2,841.1 1035.6,843.0 1036.0,841.3 1036.4,843.1 1036.8,841.9 1037.3,843.6 1037.7,844.4 1038.1,844.4 1038.5,841.9 1038.9,844.0 1039.4,844.6 1039.8,841.3 1040.2,844.1 1040.6,844.4 1041.0,846.1 1041.5,843.1 1041.9,843.9 1042.3,844.3 1042.7,842.9 1043.1,839.2 1043.6,841.4 1044.0,842.2 1044.4,842.7 1044.8,843.4 1045.2,843.9 1045.7,843.8 1046.1,843.3 1046.5,843.6 1046.9,843.1 1047.3,844.6 1047.8,844.9 1048.2,842.3 1048.6,843.3 1049.0,844.0 1049.4,841.9 1049.9,842.2 1050.3,844.5 1050.7,841.7 1051.1,842.8 1051.5,841.3 1052.0,843.1 1052.4,843.9 1052.8,844.6 1053.2,844.1 1053.6,840.9 1054.1,843.8 1054.5,842.2 1054.9,836.8 1055.3,842.4 1055.7,844.6 1056.2,842.4 1056.6,841.9 1057.0,846.2 1057.4,844.1 1057.8,840.7 1058.3,845.4 1058.7,842.8 1059.1,844.0 1059.5,843.5 1059.9,842.1 1060.4,842.5 1060.8,844.6 1061.2,845.2 1061.6,844.6 1062.0,843.5 1062.5,844.6 1062.9,843.7 1063.3,840.9 1063.7,842.8 1064.1,842.6 1064.6,843.4 1065.0,845.4 1065.4,842.4 1065.8,845.0 1066.2,841.8 1066.7,843.2 1067.1,842.5 1067.5,842.5 1067.9,840.7 1068.3,841.9 1068.8,841.7 1069.2,840.4 1069.6,837.1 1070.0,829.6 1070.4,828.9 1070.9,810.3 1071.3,778.2 1071.5,762.8 1071.7,773.5 1072.1,811.8 1072.5,827.0 1073.0,833.5 1073.4,838.2 1073.8,832.7 1074.2,835.6 1074.6,841.9 1075.1,844.4 1075.5,844.0 1075.9,835.7 1076.3,842.7 1076.7,842.5 1077.2,842.6 1077.6,844.7 1078.0,842.5 1078.4,843.2 1078.8,843.5 1079.3,833.7 1079.7,841.7 1080.1,842.6 1080.5,842.9 1080.9,844.7 1081.4,841.9 1081.8,844.2 1082.2,843.8 1082.6,844.5 1083.0,842.5 1083.5,843.9 1083.9,836.1 1084.3,843.2 1084.7,843.2 1085.1,844.6 1085.6,845.7 1086.0,844.3 1086.4,844.6 1086.8,844.8 1087.2,842.0 1087.7,841.4 1088.1,843.0 1088.5,842.9 1088.9,843.7 1089.3,844.9 1089.8,844.2 1090.2,845.1 1090.6,843.9 1091.0,843.4 1091.4,844.7 1091.9,844.8 1092.3,843.4 1092.7,844.9 1093.1,841.9 1093.5,841.1 1094.0,835.8 1094.4,843.7 1094.8,843.0 1095.2,843.7 1095.6,842.2 1096.1,844.5 1096.5,844.4 1096.9,844.5 1097.3,841.7 1097.7,844.1 1098.2,843.3 1098.6,844.5 1099.0,843.0 1099.4,842.3 1099.8,845.0 1100.3,845.0 1100.7,842.0 1101.1,843.1 1101.5,843.2 1101.9,846.3 1102.4,843.4 1102.8,843.8 1103.2,845.7 1103.6,844.1 1104.0,842.5 1104.5,843.9 1104.9,845.4 1105.3,843.8 1105.7,843.1 1106.1,843.5 1106.6,840.5 1107.0,843.1 1107.4,843.8 1107.8,845.0 1108.2,841.4 1108.7,842.9 1109.1,844.4 1109.5,842.9 1109.9,842.6 1110.3,844.5 1110.8,843.4 1111.2,842.5 1111.6,844.5 1112.0,843.2 1112.4,841.8 1112.9,844.3 1113.3,843.5 1113.7,845.4 1114.1,845.6 1114.5,844.8 1115.0,841.8 1115.4,843.8 1115.8,843.9 1116.2,844.2 1116.6,843.0 1117.1,842.6 1117.5,845.1 1117.9,840.7 1118.3,843.1 1118.7,843.2 1119.2,844.2 1119.6,843.2 1120.0,842.7 1120.4,842.7 1120.8,842.5 1121.3,843.0 1121.7,844.0 1122.1,844.2 1122.5,843.6 1122.9,843.1 1123.4,842.5 1123.8,843.5 1124.2,844.8 1124.6,843.6 1125.0,844.5 1125.5,842.8 1125.9,842.6 1126.3,843.3 1126.7,845.9 1127.1,841.8 1127.6,845.6 1128.0,844.4 1128.4,842.6 1128.8,842.1 1129.2,843.1 1129.7,844.5 1130.1,843.2 1130.5,843.5 1130.9,842.9 1131.3,844.7 1131.8,845.1 1132.2,842.5 1132.6,842.1 1133.0,845.0 1133.4,841.7 1133.9,844.4 1134.3,843.2 1134.7,836.0 1135.1,842.3 1135.5,845.0 1136.0,844.8 1136.4,843.1 1136.8,844.3 1137.2,843.2 1137.6,842.7 1138.1,845.2 1138.5,843.0 1138.9,843.4 1139.3,842.0 1139.7,844.1 1140.2,844.0 1140.6,842.3 1141.0,843.7 1141.4,843.6 1141.8,844.3 1142.3,843.3 1142.7,844.2 1143.1,844.3 1143.5,843.3 1143.9,843.1" fill="none" stroke="#111" stroke-width="2.4" stroke-linejoin="round"/>
<line x1="258" y1="633" x2="1059" y2="633" stroke="#333" stroke-width="1.5"/>
<polyline points="277,627.5 257.5,633 277,638.5" fill="none" stroke="#333" stroke-width="1.6"/>
<polyline points="1040,627.5 1059.5,633 1040,638.5" fill="none" stroke="#333" stroke-width="1.6"/>
<rect x="142.0" y="1120.0" width="1003.0" height="808.5" fill="none" stroke="#111" stroke-width="2.4"/>
<line x1="253.44" y1="1120.0" x2="253.44" y2="1135.0" stroke="#111" stroke-width="2.4"/>
<line x1="364.89" y1="1120.0" x2="364.89" y2="1127.5" stroke="#111" stroke-width="2.4"/>
<line x1="476.33" y1="1120.0" x2="476.33" y2="1135.0" stroke="#111" stroke-width="2.4"/>
<line x1="587.78" y1="1120.0" x2="587.78" y2="1127.5" stroke="#111" stroke-width="2.4"/>
<line x1="699.22" y1="1120.0" x2="699.22" y2="1135.0" stroke="#111" stroke-width="2.4"/>
<line x1="810.67" y1="1120.0" x2="810.67" y2="1127.5" stroke="#111" stroke-width="2.4"/>
<line x1="922.11" y1="1120.0" x2="922.11" y2="1135.0" stroke="#111" stroke-width="2.4"/>
<line x1="1033.56" y1="1120.0" x2="1033.56" y2="1127.5" stroke="#111" stroke-width="2.4"/>
<line x1="142.0" y1="1838.67" x2="149.5" y2="1838.67" stroke="#111" stroke-width="2.4"/>
<line x1="1145.0" y1="1838.67" x2="1137.5" y2="1838.67" stroke="#111" stroke-width="2.4"/>
<line x1="142.0" y1="1748.83" x2="157.5" y2="1748.83" stroke="#111" stroke-width="2.4"/>
<line x1="1145.0" y1="1748.83" x2="1129.5" y2="1748.83" stroke="#111" stroke-width="2.4"/>
<line x1="142.0" y1="1659.00" x2="149.5" y2="1659.00" stroke="#111" stroke-width="2.4"/>
<line x1="1145.0" y1="1659.00" x2="1137.5" y2="1659.00" stroke="#111" stroke-width="2.4"/>
<line x1="142.0" y1="1569.17" x2="157.5" y2="1569.17" stroke="#111" stroke-width="2.4"/>
<line x1="1145.0" y1="1569.17" x2="1129.5" y2="1569.17" stroke="#111" stroke-width="2.4"/>
<line x1="142.0" y1="1479.33" x2="149.5" y2="1479.33" stroke="#111" stroke-width="2.4"/>
<line x1="1145.0" y1="1479.33" x2="1137.5" y2="1479.33" stroke="#111" stroke-width="2.4"/>
<line x1="142.0" y1="1389.50" x2="157.5" y2="1389.50" stroke="#111" stroke-width="2.4"/>
<line x1="1145.0" y1="1389.50" x2="1129.5" y2="1389.50" stroke="#111" stroke-width="2.4"/>
<line x1="142.0" y1="1299.67" x2="149.5" y2="1299.67" stroke="#111" stroke-width="2.4"/>
<line x1="1145.0" y1="1299.67" x2="1137.5" y2="1299.67" stroke="#111" stroke-width="2.4"/>
<line x1="142.0" y1="1209.83" x2="157.5" y2="1209.83" stroke="#111" stroke-width="2.4"/>
<line x1="1145.0" y1="1209.83" x2="1129.5" y2="1209.83" stroke="#111" stroke-width="2.4"/>
<text x="253.44" y="1973.00" text-anchor="middle" fill="#111" style="font-family:'Liberation Sans',sans-serif;font-size:34.5px">−38</text>
<text x="476.33" y="1973.00" text-anchor="middle" fill="#111" style="font-family:'Liberation Sans',sans-serif;font-size:34.5px">−37</text>
<text x="699.22" y="1973.00" text-anchor="middle" fill="#111" style="font-family:'Liberation Sans',sans-serif;font-size:34.5px">−36</text>
<text x="922.11" y="1973.00" text-anchor="middle" fill="#111" style="font-family:'Liberation Sans',sans-serif;font-size:34.5px">−35</text>
<text x="1145.00" y="1973.00" text-anchor="middle" fill="#111" style="font-family:'Liberation Sans',sans-serif;font-size:34.5px">−34</text>
<text x="644.5" y="2040" text-anchor="middle" style="font-family:'Liberation Sans',sans-serif;font-size:46.5px">Frequency (MHz)</text>
<text transform="translate(109.3,1525.5) rotate(-90)" text-anchor="middle" style="font-family:'Liberation Sans',sans-serif;font-size:46.5px">Fourier Power</text>
<text x="5" y="1114.6" style="font-family:'Liberation Sans',sans-serif;font-size:54.5px">b)</text>
<path clip-path="url(#cb)" d="M142.00,1925.00 C194.67,1924.00 259.87,1924.22 300.00,1922.00 C324.78,1920.63 342.33,1919.00 360.00,1916.50 C374.16,1914.50 389.94,1911.56 398.00,1909.20 C401.92,1908.05 403.72,1907.17 406.50,1905.80 C409.39,1904.38 412.42,1903.25 415.00,1900.80 C418.22,1897.75 420.67,1892.25 423.50,1888.00 C426.31,1883.78 428.90,1879.06 431.90,1875.40 C434.57,1872.14 437.52,1868.65 440.40,1866.90 C442.60,1865.57 444.79,1864.57 447.10,1864.80 C449.82,1865.07 452.86,1867.08 455.60,1869.50 C459.35,1872.81 463.20,1879.63 466.30,1884.20 C468.90,1888.03 470.17,1892.07 473.10,1895.00 C476.03,1897.93 479.64,1899.90 483.90,1901.80 C489.21,1904.17 496.88,1904.66 502.90,1907.20 C508.91,1909.73 514.34,1914.46 520.00,1917.00 C525.10,1919.29 529.40,1921.15 535.20,1922.10 C542.50,1923.29 551.75,1921.81 560.60,1922.10 C570.31,1922.42 583.81,1923.82 591.10,1924.10 C595.16,1924.25 595.66,1924.12 600.60,1924.20 C618.11,1924.49 667.97,1926.31 720.00,1926.90 C818.15,1928.02 1003.33,1926.97 1145.00,1927.00" fill="none" stroke="#8455a5" stroke-width="2.6" stroke-linejoin="round" stroke-linecap="round"/>
<path clip-path="url(#cb)" d="M142.00,1926.00 C221.33,1924.33 338.61,1926.87 380.00,1921.00 C394.95,1918.88 400.61,1916.97 410.00,1913.00 C419.29,1909.07 429.04,1902.10 436.10,1897.40 C441.19,1894.01 444.81,1891.41 448.80,1888.00 C452.78,1884.60 456.93,1879.59 460.00,1877.00 C461.93,1875.38 462.81,1874.58 465.00,1873.40 C468.44,1871.55 474.61,1867.92 479.20,1868.00 C483.59,1868.08 488.13,1870.81 492.00,1873.40 C496.07,1876.12 499.28,1880.21 502.90,1884.20 C506.94,1888.65 511.49,1897.03 515.00,1899.00 C516.80,1900.01 518.14,1898.96 520.00,1899.70 C522.92,1900.86 526.32,1904.79 530.20,1906.90 C534.64,1909.32 539.87,1911.50 545.40,1913.00 C551.59,1914.67 558.95,1914.84 565.70,1916.00 C572.48,1917.17 579.75,1918.54 586.00,1920.00 C591.46,1921.27 597.23,1923.34 601.20,1924.10 C603.70,1924.58 604.04,1924.59 607.40,1924.80 C621.66,1925.68 670.44,1925.68 720.00,1926.00 C816.28,1926.63 1003.33,1926.67 1145.00,1927.00" fill="none" stroke="#84503a" stroke-width="2.6" stroke-linejoin="round" stroke-linecap="round"/>
<path clip-path="url(#cb)" d="M142.00,1924.00 C211.33,1923.00 306.06,1924.72 350.00,1921.00 C370.56,1919.26 383.93,1916.80 395.00,1914.00 C401.71,1912.30 405.49,1910.53 410.80,1908.40 C416.38,1906.16 422.15,1903.71 427.70,1900.80 C433.43,1897.80 440.20,1894.48 444.60,1890.60 C448.24,1887.39 450.50,1883.92 453.00,1880.00 C455.69,1875.78 457.87,1870.30 460.00,1866.00 C461.81,1862.34 463.11,1860.06 465.00,1855.80 C468.03,1848.97 472.21,1836.30 475.80,1828.70 C478.54,1822.90 480.57,1817.10 484.00,1813.80 C486.70,1811.20 490.15,1808.84 493.40,1809.10 C497.29,1809.41 502.13,1814.07 505.60,1817.90 C509.47,1822.18 511.62,1828.79 515.00,1834.10 C518.44,1839.50 522.90,1844.99 526.10,1850.00 C528.83,1854.28 530.80,1858.24 533.20,1862.20 C535.53,1866.04 537.79,1869.72 540.30,1873.40 C542.85,1877.15 545.71,1881.14 548.40,1884.50 C550.78,1887.47 552.67,1890.42 555.50,1892.60 C558.41,1894.85 561.90,1896.12 565.70,1897.70 C570.21,1899.57 575.86,1900.94 580.90,1902.80 C585.99,1904.67 591.47,1907.65 596.10,1908.90 C599.77,1909.89 602.56,1910.37 606.30,1910.40 C610.86,1910.43 616.93,1908.48 621.50,1908.40 C625.23,1908.34 628.53,1908.15 631.70,1909.40 C635.13,1910.76 636.93,1914.76 641.20,1916.70 C647.69,1919.64 657.77,1920.71 668.30,1922.10 C682.72,1924.00 694.43,1924.61 720.00,1925.50 C793.25,1928.04 1003.33,1926.50 1145.00,1927.00" fill="none" stroke="#5ea35a" stroke-width="2.6" stroke-linejoin="round" stroke-linecap="round"/>
<path clip-path="url(#cb)" d="M142.00,1924.00 C194.67,1923.33 253.34,1923.46 300.00,1922.00 C337.14,1920.84 376.18,1921.94 400.00,1917.00 C413.91,1914.12 423.79,1908.17 432.00,1905.00 C437.17,1903.00 440.12,1901.25 444.60,1900.00 C449.41,1898.66 454.61,1897.79 460.00,1897.40 C465.86,1896.97 472.90,1899.90 478.50,1897.80 C484.61,1895.50 490.44,1889.21 494.80,1882.90 C499.81,1875.64 502.15,1864.61 505.60,1855.80 C508.87,1847.46 512.13,1840.13 515.00,1831.40 C518.20,1821.64 521.21,1809.64 523.60,1799.90 C525.65,1791.58 526.84,1784.22 528.70,1776.60 C530.51,1769.16 532.34,1761.68 534.60,1754.70 C536.74,1748.11 538.62,1740.19 541.80,1735.80 C544.07,1732.66 547.13,1729.30 549.80,1729.30 C552.47,1729.30 555.66,1732.64 557.80,1735.80 C560.77,1740.18 561.81,1748.15 563.70,1754.70 C565.72,1761.71 567.59,1769.18 569.50,1776.60 C571.46,1784.24 573.45,1792.36 575.30,1799.90 C577.04,1807.00 578.16,1812.86 580.30,1820.60 C583.09,1830.68 587.14,1845.25 591.10,1855.10 C594.24,1862.90 597.61,1869.23 601.20,1875.40 C604.42,1880.95 607.89,1885.89 611.40,1890.60 C614.67,1894.98 617.88,1899.47 621.50,1902.80 C624.70,1905.75 628.40,1907.95 631.70,1909.90 C634.54,1911.58 636.03,1912.87 640.00,1914.00 C648.46,1916.41 668.20,1916.37 681.80,1918.00 C694.84,1919.56 700.33,1922.03 720.00,1923.50 C785.28,1928.37 1003.33,1925.17 1145.00,1926.00" fill="none" stroke="#e2853a" stroke-width="2.6" stroke-linejoin="round" stroke-linecap="round"/>
<path clip-path="url(#cb)" d="M142.00,1925.00 C178.00,1925.00 213.84,1925.23 250.00,1925.00 C286.50,1924.77 331.93,1924.04 360.00,1923.60 C377.41,1923.32 390.01,1923.74 402.30,1922.80 C411.86,1922.07 418.71,1920.36 427.70,1919.40 C437.81,1918.32 453.00,1918.33 460.00,1916.80 C463.52,1916.03 464.61,1915.47 467.70,1914.00 C472.95,1911.49 481.09,1905.23 488.00,1901.80 C494.64,1898.51 501.53,1896.40 508.30,1893.70 C515.07,1891.00 523.14,1890.41 528.60,1885.60 C534.77,1880.16 538.29,1870.63 542.10,1861.20 C546.78,1849.62 550.17,1831.90 553.00,1820.60 C555.01,1812.57 556.08,1807.00 557.80,1799.90 C559.63,1792.35 561.50,1783.40 563.70,1776.60 C565.48,1771.10 567.01,1765.57 569.50,1762.00 C571.36,1759.35 573.82,1756.21 576.00,1756.20 C578.19,1756.19 580.72,1759.34 582.60,1762.00 C585.11,1765.56 586.63,1771.10 588.40,1776.60 C590.59,1783.40 592.58,1792.34 594.20,1799.90 C595.71,1806.98 596.05,1813.14 597.90,1820.60 C600.15,1829.70 603.80,1841.22 607.40,1850.40 C610.65,1858.68 613.31,1867.38 618.20,1873.40 C622.57,1878.78 628.53,1881.87 634.40,1885.60 C640.66,1889.58 647.86,1893.68 654.80,1896.40 C661.41,1898.99 668.28,1899.78 675.00,1901.80 C681.81,1903.84 691.01,1907.30 695.40,1908.60 C697.47,1909.21 697.76,1909.23 700.00,1909.80 C706.07,1911.36 722.44,1917.18 733.80,1918.30 C745.01,1919.40 756.44,1916.04 767.70,1916.60 C779.00,1917.16 787.24,1920.51 801.50,1921.70 C825.71,1923.73 859.81,1922.92 900.00,1923.40 C963.38,1924.15 1063.33,1924.47 1145.00,1925.00" fill="none" stroke="#d880c0" stroke-width="2.6" stroke-linejoin="round" stroke-linecap="round"/>
<path clip-path="url(#cb)" d="M142.00,1914.00 C161.33,1915.00 181.39,1915.96 200.00,1917.00 C217.29,1917.97 233.33,1919.33 250.00,1920.00 C266.66,1920.67 283.33,1921.00 300.00,1921.00 C316.67,1921.00 333.35,1920.83 350.00,1920.00 C366.68,1919.17 384.27,1917.42 400.00,1916.00 C414.08,1914.73 426.25,1915.07 440.00,1912.00 C455.47,1908.54 475.55,1900.48 488.00,1895.00 C496.37,1891.32 502.64,1889.00 508.30,1884.20 C513.86,1879.49 518.33,1872.57 521.80,1866.60 C524.89,1861.28 526.30,1856.68 528.60,1850.40 C531.67,1842.03 535.12,1829.63 538.00,1820.60 C540.41,1813.07 542.34,1807.87 544.70,1799.90 C547.87,1789.20 552.11,1773.84 554.90,1762.00 C557.33,1751.70 558.94,1743.16 560.80,1732.90 C562.87,1721.47 564.75,1709.20 566.60,1696.50 C568.63,1682.61 570.47,1667.36 572.40,1652.80 C574.33,1638.26 576.27,1623.74 578.20,1609.20 C580.13,1594.64 581.95,1579.39 584.00,1565.50 C585.87,1552.80 586.77,1537.84 589.90,1529.10 C591.85,1523.65 594.48,1516.82 597.10,1516.70 C599.80,1516.58 603.63,1523.54 605.90,1529.10 C609.44,1537.76 610.05,1552.79 611.70,1565.50 C613.50,1579.38 614.66,1595.30 616.10,1609.20 C617.42,1621.89 618.67,1636.13 620.00,1645.60 C620.86,1651.71 621.57,1654.07 622.60,1660.60 C624.53,1672.81 627.50,1696.43 630.10,1713.30 C632.51,1728.93 635.43,1745.34 637.60,1758.40 C639.26,1768.43 639.84,1775.74 642.00,1785.00 C644.44,1795.46 648.35,1807.54 652.00,1817.90 C655.36,1827.45 658.92,1836.44 662.90,1845.00 C666.66,1853.09 670.32,1861.86 675.10,1868.00 C679.10,1873.13 683.87,1876.96 688.60,1880.20 C692.91,1883.15 697.99,1884.26 702.10,1887.00 C706.11,1889.68 710.28,1894.07 713.00,1896.40 C714.62,1897.79 715.14,1898.21 716.90,1899.70 C720.56,1902.79 727.07,1911.77 733.80,1914.00 C741.01,1916.39 750.80,1911.58 759.20,1912.40 C767.73,1913.23 774.59,1918.05 784.60,1919.10 C798.54,1920.56 820.21,1916.03 835.40,1916.60 C847.83,1917.06 858.18,1920.26 869.20,1920.80 C879.69,1921.31 886.79,1920.11 900.00,1920.00 C923.79,1919.81 963.58,1920.69 1000.00,1921.00 C1043.86,1921.37 1096.67,1921.67 1145.00,1922.00" fill="none" stroke="#4773b3" stroke-width="2.6" stroke-linejoin="round" stroke-linecap="round"/>
<path clip-path="url(#cb)" d="M142.00,1926.00 C161.33,1924.67 181.41,1923.76 200.00,1922.00 C217.31,1920.37 234.25,1917.73 250.00,1916.00 C264.07,1914.45 275.30,1912.61 290.00,1912.00 C307.96,1911.25 331.59,1912.05 350.00,1913.00 C365.76,1913.81 382.58,1916.31 393.80,1916.80 C400.77,1917.10 405.16,1917.22 410.80,1916.80 C416.46,1916.38 422.13,1915.67 427.70,1914.30 C433.40,1912.90 439.05,1909.98 444.60,1908.40 C449.81,1906.92 455.73,1905.61 460.00,1905.00 C462.99,1904.58 464.37,1904.27 467.70,1904.50 C474.00,1904.93 486.43,1908.32 494.80,1910.00 C502.03,1911.45 510.68,1915.08 515.00,1914.00 C517.42,1913.39 517.98,1911.32 520.00,1909.90 C522.74,1907.97 526.53,1906.24 530.20,1903.80 C534.83,1900.72 541.06,1896.69 545.40,1892.60 C549.37,1888.86 552.24,1884.86 555.50,1880.50 C559.02,1875.79 561.97,1869.28 565.70,1865.20 C568.83,1861.78 572.23,1858.96 575.80,1857.10 C579.03,1855.41 582.97,1855.70 586.00,1854.10 C588.95,1852.54 591.18,1850.24 593.80,1847.70 C596.93,1844.67 600.61,1841.50 603.30,1836.90 C606.81,1830.90 608.94,1821.60 611.40,1813.80 C613.87,1805.96 616.33,1798.99 618.10,1790.00 C620.34,1778.65 620.58,1763.76 622.60,1750.90 C624.59,1738.20 627.97,1726.94 630.10,1713.30 C632.61,1697.26 634.16,1678.76 636.10,1660.60 C638.17,1641.21 640.08,1620.47 642.10,1600.40 C644.12,1580.33 646.27,1560.27 648.20,1540.20 C650.13,1520.14 652.70,1495.42 653.70,1480.00 C654.32,1470.40 653.84,1464.80 654.60,1456.60 C655.45,1447.41 656.46,1435.50 658.90,1427.50 C660.75,1421.42 663.77,1412.20 666.20,1412.20 C668.63,1412.20 671.70,1421.42 673.50,1427.50 C675.87,1435.50 676.21,1447.42 677.30,1456.60 C678.28,1464.82 678.93,1470.38 679.80,1480.00 C681.20,1495.40 682.55,1520.14 684.30,1540.20 C686.05,1560.28 687.87,1580.24 690.30,1600.40 C692.76,1620.84 696.43,1643.02 699.00,1662.00 C701.21,1678.28 702.92,1693.96 704.90,1707.40 C706.49,1718.19 707.78,1726.83 709.70,1736.50 C711.64,1746.23 714.84,1757.57 716.50,1765.60 C717.66,1771.22 717.86,1774.83 719.10,1780.00 C720.59,1786.23 723.17,1793.53 725.20,1800.30 C727.23,1807.07 728.79,1813.92 731.30,1820.60 C733.87,1827.45 736.93,1834.44 740.50,1840.90 C744.04,1847.31 748.04,1853.84 752.60,1859.20 C756.90,1864.25 761.81,1869.31 766.90,1872.40 C771.38,1875.12 776.71,1876.74 781.10,1877.50 C784.69,1878.13 787.88,1876.87 791.20,1877.50 C794.65,1878.15 798.15,1879.62 801.40,1881.50 C804.94,1883.55 808.09,1887.03 811.50,1889.60 C814.85,1892.12 818.34,1895.16 821.70,1896.80 C824.50,1898.16 826.88,1898.41 830.00,1899.30 C834.01,1900.44 838.91,1900.95 843.80,1903.00 C850.08,1905.63 857.53,1912.55 864.10,1914.90 C869.53,1916.84 874.38,1916.83 880.00,1917.40 C886.27,1918.03 892.54,1918.50 900.00,1918.30 C909.53,1918.05 920.87,1915.36 932.50,1915.10 C945.93,1914.80 960.10,1916.69 976.00,1917.40 C995.28,1918.26 1016.04,1918.89 1040.00,1919.70 C1070.69,1920.73 1110.00,1921.90 1145.00,1923.00" fill="none" stroke="#cc3b3b" stroke-width="2.6" stroke-linejoin="round" stroke-linecap="round"/>
<path clip-path="url(#cb)" d="M142.00,1914.60 C154.67,1915.07 166.56,1915.06 180.00,1916.00 C195.27,1917.06 215.19,1922.56 228.80,1921.00 C239.03,1919.82 246.65,1914.88 255.00,1912.00 C262.65,1909.36 270.08,1904.17 277.00,1904.40 C283.34,1904.61 289.64,1909.26 295.00,1912.00 C299.64,1914.38 303.18,1918.86 307.50,1919.60 C311.53,1920.30 315.79,1917.83 320.00,1917.00 C324.29,1916.16 328.60,1914.48 333.00,1914.60 C337.59,1914.73 342.33,1917.10 347.00,1918.00 C351.60,1918.89 355.84,1920.15 360.80,1920.00 C366.69,1919.82 373.51,1917.11 380.00,1916.00 C386.58,1914.87 392.82,1913.96 400.00,1913.30 C408.31,1912.54 419.09,1913.81 427.00,1912.00 C433.67,1910.48 438.83,1906.32 444.70,1904.50 C450.16,1902.81 455.28,1901.12 461.00,1901.20 C467.38,1901.29 474.79,1905.16 481.20,1905.90 C486.89,1906.55 492.14,1907.26 497.50,1905.90 C503.42,1904.40 511.00,1898.98 515.00,1896.40 C517.25,1894.95 517.87,1894.19 520.00,1892.60 C523.68,1889.86 529.97,1884.58 535.20,1881.50 C540.15,1878.58 545.29,1875.93 550.50,1874.40 C555.47,1872.94 561.21,1873.48 565.70,1872.30 C569.48,1871.31 572.56,1870.17 575.80,1868.30 C579.35,1866.25 583.09,1863.29 586.00,1860.20 C588.84,1857.18 591.05,1853.37 593.10,1850.00 C594.96,1846.94 596.19,1844.82 597.90,1840.90 C600.76,1834.35 604.87,1822.61 607.40,1813.80 C609.74,1805.68 610.92,1798.50 612.80,1790.00 C614.96,1780.22 617.19,1768.79 619.60,1758.40 C621.96,1748.23 624.60,1738.33 627.10,1728.30 C629.60,1718.27 631.86,1708.20 634.60,1698.20 C637.36,1688.13 640.94,1678.76 643.60,1668.10 C646.54,1656.33 649.12,1643.66 651.20,1630.50 C653.47,1616.17 654.90,1600.37 656.40,1585.30 C657.90,1570.27 658.96,1556.32 660.20,1540.20 C661.63,1521.58 663.52,1496.73 664.40,1480.00 C665.03,1468.07 664.99,1459.97 665.50,1449.30 C666.06,1437.68 666.94,1424.35 667.70,1412.90 C668.38,1402.66 669.05,1394.48 669.80,1383.80 C670.72,1370.71 671.82,1354.67 672.80,1340.10 C673.78,1325.53 674.62,1310.95 675.70,1296.40 C676.78,1281.85 677.89,1266.67 679.30,1252.80 C680.59,1240.11 681.70,1227.04 683.70,1216.40 C685.29,1207.91 687.57,1193.80 689.50,1193.80 C691.43,1193.80 693.71,1207.91 695.30,1216.40 C697.30,1227.04 698.51,1240.10 699.70,1252.80 C701.00,1266.66 701.52,1281.86 702.60,1296.40 C703.68,1310.96 705.23,1325.53 706.20,1340.10 C707.17,1354.66 707.55,1369.24 708.40,1383.80 C709.25,1398.37 710.30,1412.27 711.30,1427.50 C712.39,1444.20 713.48,1461.90 714.70,1480.00 C716.00,1499.38 717.32,1521.59 718.90,1540.20 C720.27,1556.33 721.90,1570.26 723.40,1585.30 C724.90,1600.36 726.87,1618.72 727.90,1630.50 C728.56,1638.05 728.72,1642.21 729.30,1649.10 C730.02,1657.74 730.73,1669.59 732.00,1678.30 C733.05,1685.46 734.44,1691.25 735.90,1697.70 C737.37,1704.18 739.02,1710.65 740.80,1717.10 C742.59,1723.59 744.51,1730.06 746.60,1736.50 C748.71,1742.99 750.84,1749.49 753.40,1755.90 C756.00,1762.42 759.00,1769.38 762.10,1775.30 C764.87,1780.60 767.81,1784.99 770.90,1789.90 C774.13,1795.02 778.29,1800.34 781.10,1805.40 C783.59,1809.88 785.15,1814.30 787.20,1818.60 C789.18,1822.76 790.89,1826.81 793.20,1830.80 C795.60,1834.95 798.45,1838.91 801.40,1843.00 C804.53,1847.34 808.12,1851.73 811.50,1856.10 C814.89,1860.49 818.54,1864.94 821.70,1869.30 C824.68,1873.40 827.31,1878.25 830.00,1881.50 C832.04,1883.97 833.69,1886.01 836.00,1887.50 C838.29,1888.97 840.56,1890.22 843.80,1890.40 C848.95,1890.68 858.15,1884.51 864.10,1885.30 C869.24,1885.98 872.84,1889.63 877.70,1892.90 C884.02,1897.15 890.92,1905.10 898.30,1909.40 C905.42,1913.55 913.00,1916.59 921.10,1918.50 C929.67,1920.52 938.85,1920.72 948.50,1920.80 C959.29,1920.89 972.52,1918.84 982.80,1918.50 C991.17,1918.22 998.00,1918.88 1005.60,1918.50 C1013.23,1918.12 1020.90,1915.82 1028.50,1916.20 C1036.14,1916.58 1042.91,1919.26 1051.30,1920.80 C1061.56,1922.69 1075.31,1926.17 1085.60,1926.50 C1093.95,1926.77 1099.89,1924.63 1108.40,1924.20 C1119.15,1923.66 1132.80,1924.20 1145.00,1924.20" fill="none" stroke="#111111" stroke-width="3.0" stroke-linejoin="round" stroke-linecap="round"/>
<text x="539.9" y="1202.6" style="font-family:'Liberation Sans',sans-serif;font-size:42.3px" fill="#111111">309 K</text>
<text x="529.2" y="1398.8" style="font-family:'Liberation Sans',sans-serif;font-size:42.3px" fill="#cc3b3b">304 K</text>
<text x="467.2" y="1516.7" style="font-family:'Liberation Sans',sans-serif;font-size:42.3px" fill="#4773b3">298 K</text>
<text x="442.1" y="1695.3" style="font-family:'Liberation Sans',sans-serif;font-size:42.3px" fill="#d880c0">292 K</text>
<text x="407.8" y="1745.3" style="font-family:'Liberation Sans',sans-serif;font-size:42.3px" fill="#e2853a">288 K</text>
<text x="366.0" y="1796.1" style="font-family:'Liberation Sans',sans-serif;font-size:42.3px" fill="#5ea35a">283 K</text>
<text x="331.7" y="1849.4" style="font-family:'Liberation Sans',sans-serif;font-size:42.3px" fill="#84503a">271 K</text>
<text x="297.4" y="1893.8" style="font-family:'Liberation Sans',sans-serif;font-size:42.3px" fill="#8455a5">265 K</text>
<polyline points="822.8,1147.7 822.8,1576.7 1127.0,1576.7" fill="none" stroke="#777" stroke-width="1.6"/>
<line x1="822.8" y1="1576.7" x2="822.8" y2="1580.2" stroke="#777" stroke-width="1.6"/>
<line x1="866.3" y1="1576.7" x2="866.3" y2="1582.7" stroke="#777" stroke-width="1.6"/>
<line x1="909.7" y1="1576.7" x2="909.7" y2="1580.2" stroke="#777" stroke-width="1.6"/>
<line x1="953.2" y1="1576.7" x2="953.2" y2="1582.7" stroke="#777" stroke-width="1.6"/>
<line x1="996.6" y1="1576.7" x2="996.6" y2="1580.2" stroke="#777" stroke-width="1.6"/>
<line x1="1040.1" y1="1576.7" x2="1040.1" y2="1582.7" stroke="#777" stroke-width="1.6"/>
<line x1="1083.5" y1="1576.7" x2="1083.5" y2="1580.2" stroke="#777" stroke-width="1.6"/>
<line x1="1127.0" y1="1576.7" x2="1127.0" y2="1582.7" stroke="#777" stroke-width="1.6"/>
<line x1="822.8" y1="1576.7" x2="816.8" y2="1576.7" stroke="#777" stroke-width="1.6"/>
<line x1="822.8" y1="1533.8" x2="819.3" y2="1533.8" stroke="#777" stroke-width="1.6"/>
<line x1="822.8" y1="1490.9" x2="816.8" y2="1490.9" stroke="#777" stroke-width="1.6"/>
<line x1="822.8" y1="1448.0" x2="819.3" y2="1448.0" stroke="#777" stroke-width="1.6"/>
<line x1="822.8" y1="1405.1" x2="816.8" y2="1405.1" stroke="#777" stroke-width="1.6"/>
<line x1="822.8" y1="1362.2" x2="819.3" y2="1362.2" stroke="#777" stroke-width="1.6"/>
<line x1="822.8" y1="1319.3" x2="816.8" y2="1319.3" stroke="#777" stroke-width="1.6"/>
<line x1="822.8" y1="1276.4" x2="819.3" y2="1276.4" stroke="#777" stroke-width="1.6"/>
<line x1="822.8" y1="1233.5" x2="816.8" y2="1233.5" stroke="#777" stroke-width="1.6"/>
<line x1="822.8" y1="1190.6" x2="819.3" y2="1190.6" stroke="#777" stroke-width="1.6"/>
<line x1="822.8" y1="1147.7" x2="816.8" y2="1147.7" stroke="#777" stroke-width="1.6"/>
<text x="812.50" y="1586.50" text-anchor="end" fill="#111" style="font-family:'Liberation Sans',sans-serif;font-size:33.5px">2</text>
<text x="812.50" y="1500.70" text-anchor="end" fill="#111" style="font-family:'Liberation Sans',sans-serif;font-size:33.5px">3</text>
<text x="812.50" y="1414.90" text-anchor="end" fill="#111" style="font-family:'Liberation Sans',sans-serif;font-size:33.5px">4</text>
<text x="812.50" y="1329.10" text-anchor="end" fill="#111" style="font-family:'Liberation Sans',sans-serif;font-size:33.5px">5</text>
<text x="812.50" y="1243.30" text-anchor="end" fill="#111" style="font-family:'Liberation Sans',sans-serif;font-size:33.5px">6</text>
<text x="812.50" y="1157.50" text-anchor="end" fill="#111" style="font-family:'Liberation Sans',sans-serif;font-size:33.5px">7</text>
<text x="866.26" y="1613.30" text-anchor="middle" fill="#111" style="font-family:'Liberation Sans',sans-serif;font-size:33.5px">260</text>
<text x="953.17" y="1613.30" text-anchor="middle" fill="#111" style="font-family:'Liberation Sans',sans-serif;font-size:33.5px">280</text>
<text x="1040.09" y="1613.30" text-anchor="middle" fill="#111" style="font-family:'Liberation Sans',sans-serif;font-size:33.5px">300</text>
<text x="1127.00" y="1613.30" text-anchor="middle" fill="#111" style="font-family:'Liberation Sans',sans-serif;font-size:33.5px">320</text>
<text x="988.4" y="1673.6" text-anchor="middle" style="font-family:'Liberation Sans',sans-serif;font-size:42px"><tspan font-style="italic">T</tspan> (K)</text>
<g transform="translate(779.8,1464.6) rotate(-90) scale(1.045,1)">
<text x="0.00" y="0.00" fill="#111" style="font-family:'Liberation Sans',sans-serif;font-size:41.5px">Amp x  0</text>
<polygon points="139.58,0.00 143.24,0.00 143.24,-28.55 139.88,-28.55 133.13,-23.91 133.13,-20.47 139.58,-25.07" fill="#111"/>
<text x="175.60" y="-16.50" fill="#111" style="font-family:'Liberation Sans',sans-serif;font-size:28.5px">3</text>
</g>
<line x1="865.3" y1="1511.8" x2="1106.5" y2="1177.2" stroke="#111" stroke-width="2.6"/>
<line x1="886.6" y1="1485.2" x2="886.6" y2="1542.2" stroke="#111" stroke-width="2.6"/>
<circle cx="886.6" cy="1513.7" r="9.3" fill="#111"/>
<line x1="925.9" y1="1346.3" x2="925.9" y2="1408.3" stroke="#111" stroke-width="2.6"/>
<circle cx="925.9" cy="1377.3" r="9.3" fill="#111"/>
<line x1="968.1" y1="1361.3" x2="968.1" y2="1411.3" stroke="#111" stroke-width="2.6"/>
<circle cx="968.1" cy="1386.3" r="9.3" fill="#111"/>
<line x1="988.7" y1="1284.3" x2="988.7" y2="1348.3" stroke="#111" stroke-width="2.6"/>
<circle cx="988.7" cy="1316.3" r="9.3" fill="#111"/>
<line x1="1004.4" y1="1281.7" x2="1004.4" y2="1333.7" stroke="#111" stroke-width="2.6"/>
<circle cx="1004.4" cy="1307.7" r="9.3" fill="#111"/>
<line x1="1033.6" y1="1255.3" x2="1033.6" y2="1321.3" stroke="#111" stroke-width="2.6"/>
<circle cx="1033.6" cy="1288.3" r="9.3" fill="#111"/>
<line x1="1059" y1="1208" x2="1059" y2="1260" stroke="#111" stroke-width="2.6"/>
<circle cx="1059" cy="1234" r="9.3" fill="#111"/>
<line x1="1079.2" y1="1177.3" x2="1079.2" y2="1227.3" stroke="#111" stroke-width="2.6"/>
<circle cx="1079.2" cy="1202.3" r="9.3" fill="#111"/>
<polygon points="221.50,115.83 222.08,114.88 223.82,114.50 225.75,114.69 226.13,115.45 232.12,129.32 237.52,117.73 237.33,116.02 238.10,114.69 239.45,114.50 240.61,115.26 240.61,116.78 239.26,118.30 232.69,133.12 231.92,133.50 230.76,133.50 229.80,133.12 222.85,116.40" fill="#111"/>
<text x="242.80" y="145.20" fill="#111" style="font-family:'Liberation Sans',sans-serif;font-size:29.3px"> 2</text>
<polygon points="250.17,145.20 252.76,145.20 252.76,125.04 250.38,125.04 245.62,128.32 245.62,130.75 250.17,127.50" fill="#111"/>
<polygon points="702.00,111.09 702.54,110.17 704.16,109.80 705.96,109.98 706.32,110.72 711.90,124.23 716.94,112.94 716.76,111.28 717.48,109.98 718.74,109.80 719.82,110.54 719.82,112.02 718.56,113.50 712.44,127.93 711.72,128.30 710.64,128.30 709.74,127.93 703.26,111.65" fill="#111"/>
<path d="M725.89,127.60 L725.89,145.60 M725.89,137.32 Q729.67,139.84 733.45,137.68 M733.45,127.60 L733.45,139.12 Q734.12,139.48 737.50,139.12" fill="none" stroke="#111" stroke-width="2.30"/>
<polygon points="1046.50,717.52 1047.06,716.58 1048.72,716.20 1050.57,716.39 1050.94,717.14 1056.67,730.86 1061.86,719.40 1061.67,717.70 1062.41,716.39 1063.70,716.20 1064.82,716.95 1064.82,718.46 1063.52,719.96 1057.23,734.62 1056.49,735.00 1055.38,735.00 1054.45,734.62 1047.80,718.08" fill="#111"/>
<text x="1066.00" y="746.00" fill="#111" style="font-family:'Liberation Sans',sans-serif;font-size:29.3px">43</text>
<text x="343.2" y="716" text-anchor="middle" style="font-family:'Liberation Sans',sans-serif;font-size:38px">*</text>
<text x="931" y="602.4" style="font-family:'Liberation Sans',sans-serif;font-size:42.5px;font-style:italic">A</text>
<path d="M961.39,602.00 L961.39,619.60 M961.39,611.50 Q965.17,613.97 968.95,611.86 M968.95,602.00 L968.95,613.26 Q969.62,613.62 973.00,613.26" fill="none" stroke="#111" stroke-width="2.30"/>
<polygon points="180.30,1168.30 180.89,1167.37 182.64,1167.00 184.59,1167.19 184.98,1167.93 191.03,1181.51 196.49,1170.16 196.29,1168.49 197.07,1167.19 198.44,1167.00 199.61,1167.74 199.61,1169.23 198.24,1170.72 191.61,1185.23 190.83,1185.60 189.66,1185.60 188.69,1185.23 181.67,1168.86" fill="#111"/>
<text x="202.30" y="1197.50" fill="#111" style="font-family:'Liberation Sans',sans-serif;font-size:29.3px"> 2</text>
<polygon points="209.67,1197.50 212.26,1197.50 212.26,1177.34 209.88,1177.34 205.12,1180.62 205.12,1183.05 209.67,1179.80" fill="#111"/>
</svg>
</body></html>
